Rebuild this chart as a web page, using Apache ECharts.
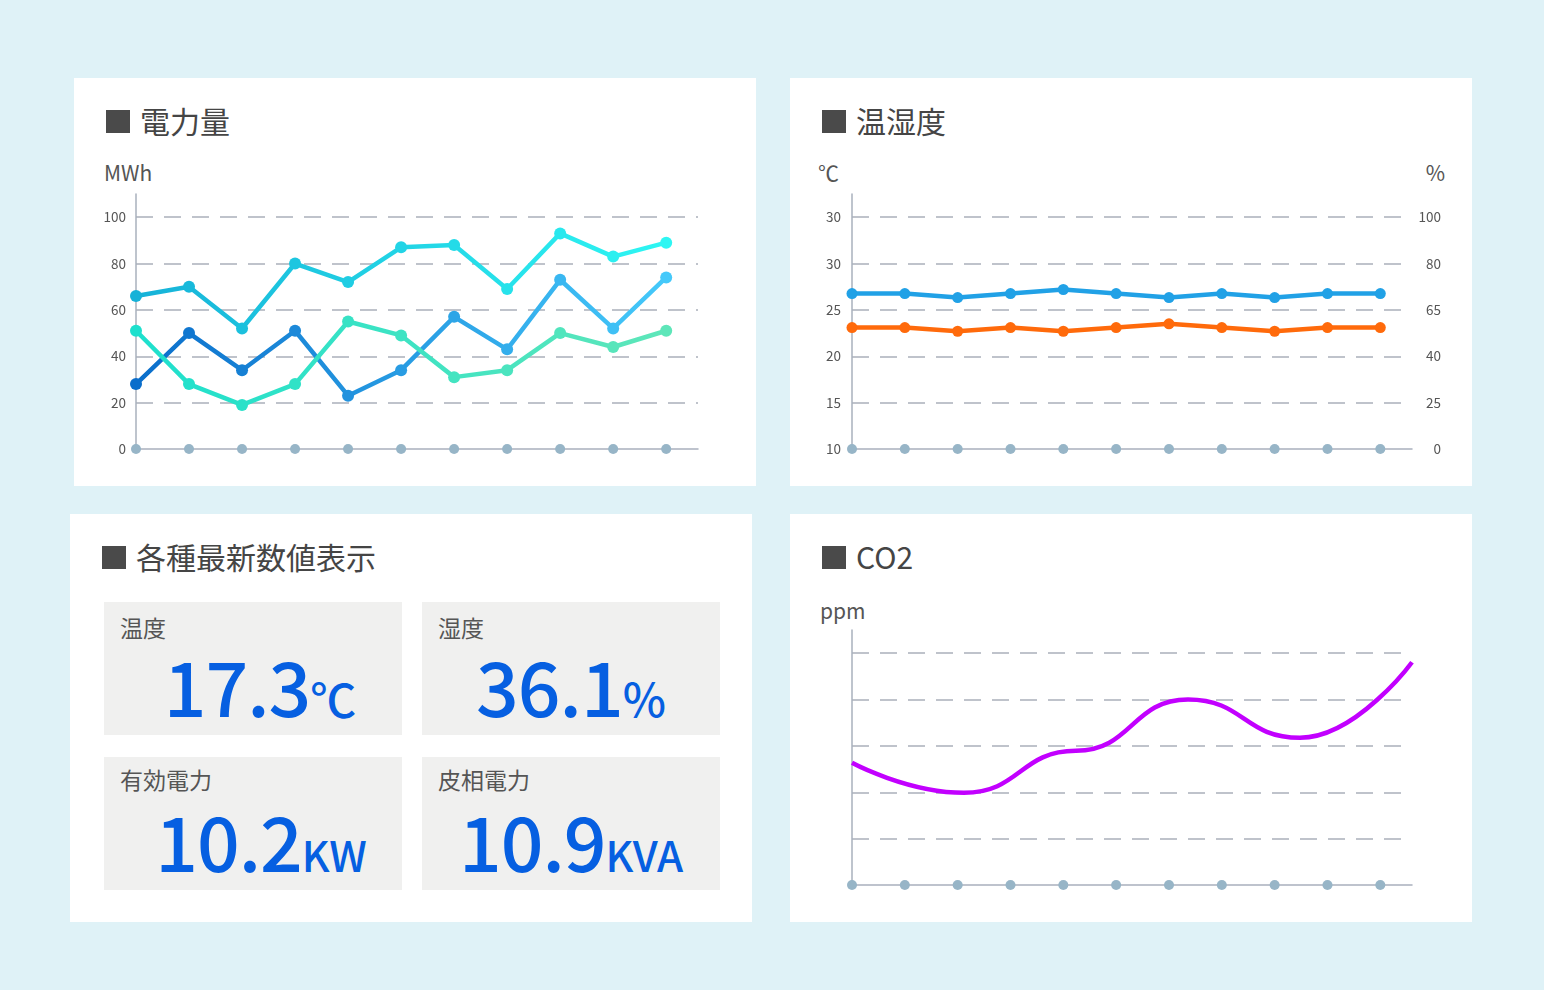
<!DOCTYPE html>
<html>
<head>
<meta charset="utf-8">
<title>エネルギーモニター</title>
<style type="text/css">
	body{
		margin: 0;
		width: 1544px;
		height: 990px;
		background: #dff2f7;
		font-family: "Noto Sans CJK JP", "Noto Sans", sans-serif;
		color: #4a4a4a;
		position: relative;
		overflow: hidden;
	}
	.panel{
		position: absolute;
		width: 682px;
		height: 408px;
		background: #fff;
	}
	.ttl{
		position: absolute;
		left: 32px;
		top: 23px;
		height: 38px;
		line-height: 38px;
		font-size: 30px;
		color: #454545;
		padding-left: 34px;
		white-space: nowrap;
	}
	.ttl:before{
		content: "";
		position: absolute;
		left: 0;
		top: 9px;
		width: 24px;
		height: 23px;
		background: #4a4a4a;
	}
	.unit{
		position: absolute;
		top: 81px;
		font-size: 21px;
		line-height: 26px;
		color: #555;
	}
	.chart{
		position: absolute;
		left: 0;
		top: 0;
		width: 682px;
		height: 408px;
	}
	.card{
		position: absolute;
		width: 298px;
		height: 133px;
		background: #f0f0ef;
	}
	.card .lbl{
		position: absolute;
		left: 16px;
		top: 9px;
		font-size: 23px;
		line-height: 32px;
		color: #555;
	}
	.card.low .lbl{
		top: 6px;
	}
	.card .val{
		position: absolute;
		left: 0;
		right: 0;
		top: 46px;
		display: flex;
		justify-content: center;
		align-items: baseline;
		color: #065fe1;
		font-weight: 500;
		white-space: nowrap;
	}
	.card .num{
		font-size: 75px;
		line-height: 74px;
		letter-spacing: -1px;
	}
	.card .u{
		font-size: 46px;
		line-height: 46px;
	}
</style>
</head>
<body>
	<div class="panel" style="left:74px;top:78px;">
		<div class="ttl">電力量</div>
		<div class="unit" style="left:30px;">MWh</div>
		<div class="chart" id="power"></div>
	</div>
	<div class="panel" style="left:790px;top:78px;">
		<div class="ttl">温湿度</div>
		<div class="unit" style="left:28px;">℃</div>
		<div class="unit" style="right:27px;">%</div>
		<div class="chart" id="climate"></div>
	</div>
	<div class="panel" style="left:70px;top:514px;">
		<div class="ttl">各種最新数値表示</div>
		<div class="card" style="left:34px;top:88px;">
			<div class="lbl">温度</div>
			<div class="val" style="padding-left:14px;"><span class="num">17.3</span><span class="u">℃</span></div>
		</div>
		<div class="card" style="left:352px;top:88px;">
			<div class="lbl">湿度</div>
			<div class="val"><span class="num">36.1</span><span class="u">%</span></div>
		</div>
		<div class="card low" style="left:34px;top:243px;">
			<div class="lbl">有効電力</div>
			<div class="val" style="padding-left:16px;"><span class="num">10.2</span><span class="u" style="font-size:42px;">KW</span></div>
		</div>
		<div class="card low" style="left:352px;top:243px;">
			<div class="lbl">皮相電力</div>
			<div class="val"><span class="num">10.9</span><span class="u" style="font-size:42px;">KVA</span></div>
		</div>
	</div>
	<div class="panel" style="left:790px;top:514px;">
		<div class="ttl">CO2</div>
		<div class="unit" style="left:30px;top:83px;">ppm</div>
		<div class="chart" id="co2"></div>
	</div>

<script src="https://cdn.jsdelivr.net/npm/echarts@6/dist/echarts.min.js" type="text/javascript" charset="utf-8"></script>
<script type="text/javascript">
	// 時間軸（11点）
	var slots = [0, 1, 2, 3, 4, 5, 6, 7, 8, 9, 10];
	// 電力量 MWh
	var powerA = [66, 70, 52, 80, 72, 87, 88, 69, 93, 83, 89];
	var powerB = [28, 50, 34, 51, 23, 34, 57, 43, 73, 52, 74];
	var powerC = [51, 28, 19, 28, 55, 49, 31, 34, 50, 44, 51];
	// 温湿度
	var tempData = [23.1, 23.1, 22.7, 23.1, 22.7, 23.1, 23.5, 23.1, 22.7, 23.1, 23.1];
	var humData = [70.3, 70.3, 69, 70.3, 71.6, 70.3, 69, 70.3, 69, 70.3, 70.3];
	var tempTicks = ['10', '15', '20', '25', '30', '30'];
	var humTicks = [0, 25, 40, 65, 80, 100];
	// CO2 ppm
	var co2Slots = ['1', '2', '3', '4', '5', '6'];
	var co2Data = [527, 398, 579, 800, 635, 961];

	var axisColor = '#a9b0bd';
	var dotColor = '#97b5c7';
	var labelFont = {color: '#555', fontSize: 13.5, fontFamily: 'Noto Sans CJK JP'};
	var dashLine = {show: true, showMinLine: false, showMaxLine: false,
		lineStyle: {color: '#abb0bb', width: 1.6, type: [17, 11]}};

	function pairs(arr){
		var out = [];
		for (var i = 0; i < arr.length; i++){
			out.push([slots[i], arr[i]]);
		}
		return out;
	}
	// 右軸の目盛りは等間隔ではないので、区間ごとに目盛り位置へ換算
	function humToAxis(v){
		for (var i = 0; i < humTicks.length - 1; i++){
			if (v <= humTicks[i + 1]){
				return i + (v - humTicks[i]) / (humTicks[i + 1] - humTicks[i]);
			}
		}
		return humTicks.length - 1;
	}
	function slotAxis(){
		return {
			type: 'value', min: 0, max: 10.6,
			axisLine: {show: true, lineStyle: {color: axisColor, width: 1.5}},
			axisTick: {show: false}, axisLabel: {show: false}, splitLine: {show: false}
		};
	}
	function dots(bottom, yIndex){
		var d = [];
		for (var i = 0; i < slots.length; i++) d.push([slots[i], bottom]);
		return {type: 'scatter', data: d, yAxisIndex: yIndex || 0, symbolSize: 10,
			itemStyle: {color: dotColor, opacity: 1}, silent: true, clip: false, z: 1};
	}
	function lineSeries(arr){
		return {type: 'line', data: pairs(arr), symbol: 'circle', symbolSize: 12,
			lineStyle: {width: 4.5}, z: 3};
	}
	function grad(idx, c0, c1){
		return {type: 'continuous', show: false, dimension: 0, min: 0, max: 10,
			seriesIndex: idx, inRange: {color: [c0, c1]}};
	}

	// 電力量
	var powerChart = echarts.init(document.getElementById('power'));
	powerChart.setOption({
		animation: false,
		grid: {left: 62, right: 58, top: 116, bottom: 37},
		xAxis: slotAxis(),
		yAxis: {
			type: 'value', min: 0, max: 110, interval: 20,
			axisLine: {show: true, lineStyle: {color: axisColor, width: 1.5}},
			axisTick: {show: false},
			axisLabel: Object.assign({margin: 10, showMaxLabel: false}, labelFont),
			splitLine: dashLine
		},
		visualMap: [
			grad(1, '#16b2d8', '#2ef6f3'),
			grad(2, '#0a6ecb', '#45c9fa'),
			grad(3, '#1de0cd', '#5ee6b9')
		],
		series: [dots(0), lineSeries(powerA), lineSeries(powerB), lineSeries(powerC)]
	});

	// 温湿度
	var humAxisData = [];
	for (var i = 0; i < humData.length; i++){
		humAxisData.push([slots[i], humToAxis(humData[i])]);
	}
	var climateChart = echarts.init(document.getElementById('climate'));
	climateChart.setOption({
		animation: false,
		grid: {left: 62, right: 60, top: 116, bottom: 37},
		xAxis: slotAxis(),
		yAxis: [{
			type: 'value', min: 10, max: 37.5, interval: 5,
			axisLine: {show: true, lineStyle: {color: axisColor, width: 1.5}},
			axisTick: {show: false},
			axisLabel: Object.assign({margin: 11, showMaxLabel: false, formatter: function(v){
				return tempTicks[Math.round((v - 10) / 5)] || '';
			}}, labelFont),
			splitLine: dashLine
		}, {
			type: 'value', min: 0, max: 5.5, interval: 1, position: 'right',
			axisLine: {show: false}, axisTick: {show: false}, splitLine: {show: false},
			axisLabel: Object.assign({margin: 29, align: 'right', showMaxLabel: false, formatter: function(v){
				return humTicks[Math.round(v)] === undefined ? '' : String(humTicks[Math.round(v)]);
			}}, labelFont)
		}],
		series: [
			dots(10),
			{type: 'line', name: '湿度', data: humAxisData, yAxisIndex: 1, symbol: 'circle', symbolSize: 11,
				itemStyle: {color: '#21a1e6'}, lineStyle: {width: 4.5, color: '#21a1e6'}, z: 3},
			{type: 'line', name: '温度', data: pairs(tempData), symbol: 'circle', symbolSize: 11,
				itemStyle: {color: '#ff6a0b'}, lineStyle: {width: 4.5, color: '#ff6a0b'}, z: 3}
		]
	});

	// CO2
	var co2Chart = echarts.init(document.getElementById('co2'));
	co2Chart.setOption({
		animation: false,
		grid: {left: 62, right: 60, top: 116, bottom: 37},
		xAxis: [slotAxis(), {
			type: 'category', data: co2Slots, boundaryGap: false, show: false
		}],
		yAxis: {
			type: 'value', min: 0, max: 1100, interval: 200,
			axisLine: {show: true, lineStyle: {color: axisColor, width: 1.5}},
			axisTick: {show: false}, axisLabel: {show: false},
			splitLine: dashLine
		},
		series: [
			dots(0),
			{type: 'line', name: 'CO2', data: co2Data, xAxisIndex: 1, smooth: 0.5, smoothMonotone: 'x',
				showSymbol: false, lineStyle: {width: 4.5, color: '#c200ff'}, z: 3}
		]
	});
</script>
</body>
</html>
